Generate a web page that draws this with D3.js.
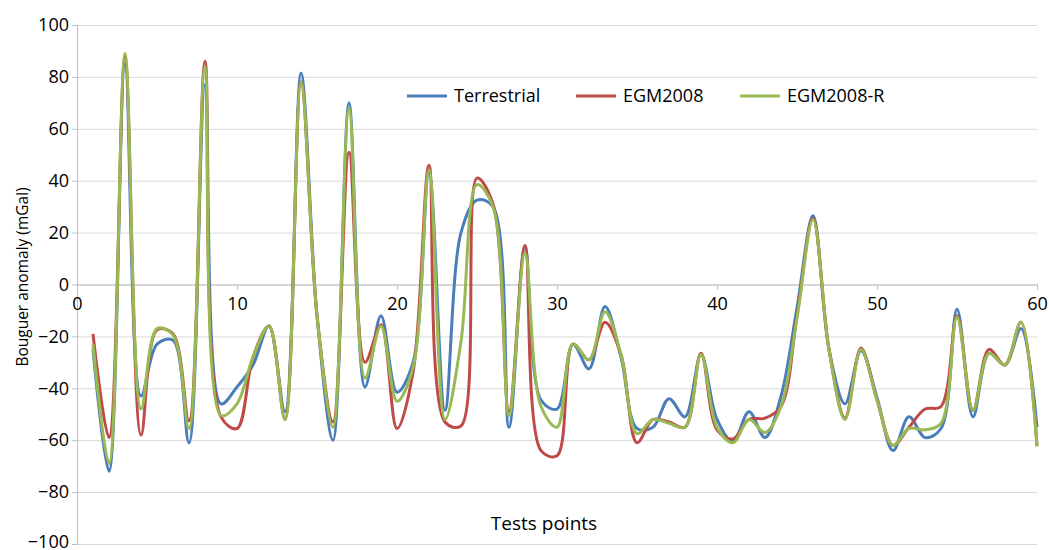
<!DOCTYPE html>
<html>
<head>
<meta charset="utf-8">
<script src="https://cdn.jsdelivr.net/npm/d3@7"></script>
<style>
  body { margin: 0; background: #fff; }
  text { font-family: "Open Sans", sans-serif; fill: #000; }
</style>
</head>
<body>
<div id="chart"></div>
<script>
// test points 1..60
var points = [1,2,3,4,5,6,7,8,9,10,11,12,13,14,15,16,17,18,19,20,
              21,22,23,24,25,26,27,28,29,30,31,32,33,34,35,36,37,38,39,40,
              41,42,43,44,45,46,47,48,49,50,51,52,53,54,55,56,57,58,59,60];

var terrestrial = [-25,-72,85,-43,-23,-21.5,-61,77,-46,-39.5,
                   -31,-16,-49,81.5,-12,-60,70,-39.5,-12,-41.5,
                   -30,43.5,-48.5,20,32.5,30,-55,14.5,-44.5,-48,
                   -23,-32.5,-8.5,-28,-55.5,-55,-44,-51,-27,-52,
                   -60.5,-49,-59,-43,-9,26.5,-25,-46,-25.5,-43.5,
                   -64,-51,-59,-55.5,-9.5,-51,-26.5,-31,-17,-55];

var egm2008 = [-19,-59,88,-58,-17.5,-19,-52.5,86,-51,-55.5,
               -28,-16,-52,78,-12,-53,51,-30,-15.5,-55.5,
               -34,46,-53,-54.5,41,31,-49,15,-64,-66,
               -23,-29,-14.5,-27,-61,-52,-53,-55,-26.5,-56,
               -59.5,-52,-51.5,-47,-12,25.5,-25,-51.5,-24.5,-44.5,
               -62,-55,-48,-47,-12,-48.5,-25,-31,-14.5,-62];

var egm2008r = [-23,-69,89,-48,-17,-19.5,-55.5,84,-50.5,-46,
                -28,-16,-52,78,-12,-55,68,-36,-16,-45,
                -32,44,-52,-22,38.5,30,-50.5,12,-47,-55,
                -23,-29,-10.5,-27,-57.5,-52,-53.5,-55,-27,-55,
                -61,-52,-57,-47,-13,25,-25,-52,-25,-44.5,
                -62,-55.5,-56,-53.5,-12.5,-48.5,-26.5,-31,-14.5,-62.5];

var seriesNames = ["Terrestrial", "EGM2008", "EGM2008-R"];
var xTicks = [0,10,20,30,40,50,60];
var yTicks = [-100,-80,-60,-40,-20,0,20,40,60,80,100];

var colors = ["#4a7ebb", "#be4b48", "#98b954"];

var margin = {top: 25, right: 12, bottom: 6, left: 77},
    width = 1049 - margin.left - margin.right,
    height = 550 - margin.top - margin.bottom;

var svg = d3.select("#chart")
    .append("svg")
    .attr("width", 1049)
    .attr("height", 550)
    .append("g")
    .attr("transform", "translate(" + margin.left + "," + margin.top + ")");

var x = d3.scaleLinear().domain([0, 60]).range([0, width]);
var y = d3.scaleLinear().domain([-100, 100]).range([height, 0]);

// gridlines
svg.append("g")
    .call(d3.axisLeft(y).tickValues(yTicks).tickSize(-width).tickFormat(""))
    .call(function(g){ g.select(".domain").remove(); })
    .selectAll("line")
    .attr("stroke", "#d9d9d9");

// y axis
var yAxis = svg.append("g")
    .call(d3.axisLeft(y).tickValues(yTicks).tickSize(5).tickPadding(3));
yAxis.select(".domain").attr("stroke", "#bfbfbf");
yAxis.selectAll("line").attr("stroke", "#bfbfbf");
yAxis.selectAll("text")
    .style("font-size", "18px")
    .attr("dy", function(d){ return d === -100 ? "0.2em" : "0.32em"; }); // keep bottom label inside

// x axis through zero
var xAxis = svg.append("g")
    .attr("transform", "translate(0," + y(0) + ")")
    .call(d3.axisBottom(x).tickValues(xTicks).tickSize(5).tickPadding(8));
xAxis.select(".domain").attr("stroke", "#bfbfbf");
xAxis.selectAll("line").attr("stroke", "#bfbfbf");
xAxis.selectAll("text").style("font-size", "18px");

// axis titles
svg.append("text")
    .attr("transform", "rotate(-90)")
    .attr("x", -(277 - margin.top))
    .attr("y", 23 - margin.left)
    .attr("dy", "0.35em")
    .style("text-anchor", "middle")
    .style("font-size", "15.5px")
    .text("Bouguer anomaly (mGal)");

svg.append("text")
    .attr("x", 544 - margin.left)
    .attr("y", 523 - margin.top)
    .attr("dy", "0.35em")
    .style("text-anchor", "middle")
    .style("font-size", "19px")
    .text("Tests points");

// lines
var allSeries = [terrestrial, egm2008, egm2008r];
var line = d3.line()
    .x(function(d, i){ return x(points[i]); })
    .y(function(d){ return y(d); })
    .curve(d3.curveCatmullRom.alpha(0.5));

allSeries.forEach(function(s, k){
    svg.append("path")
        .datum(s)
        .attr("fill", "none")
        .attr("stroke", colors[k])
        .attr("stroke-width", 3)
        .attr("stroke-linejoin", "round")
        .attr("d", line);
});

// legend
var legendX = [407, 576, 740];
var legend = svg.append("g").attr("transform", "translate(0," + (96 - margin.top) + ")");
seriesNames.forEach(function(name, k){
    var lx = legendX[k] - margin.left;
    legend.append("line")
        .attr("x1", lx).attr("x2", lx + 40)
        .attr("y1", 0).attr("y2", 0)
        .attr("stroke", colors[k])
        .attr("stroke-width", 3);
    legend.append("text")
        .attr("x", lx + 47)
        .attr("y", 0)
        .attr("dy", "0.35em")
        .style("font-size", "18px")
        .text(name);
});
</script>
</body>
</html>
